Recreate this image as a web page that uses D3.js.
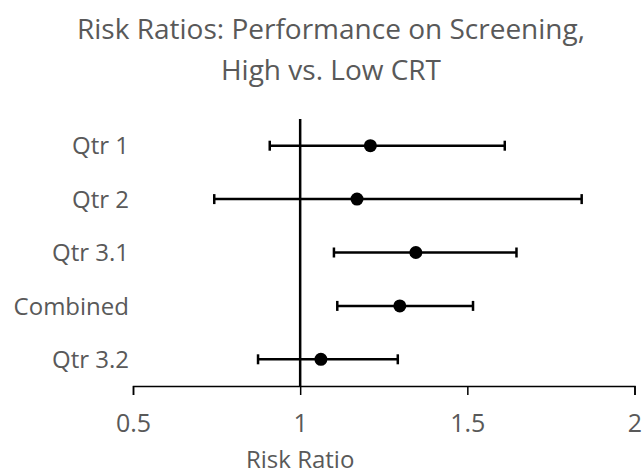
<!DOCTYPE html>
<html>
<head>
<meta charset="utf-8">
<script src="https://cdn.jsdelivr.net/npm/d3@7"></script>
<style>
  body { margin: 0; background: #fff; }
  text { font-family: "Open Sans", sans-serif; fill: #595959; }
</style>
</head>
<body>
<div id="chart"></div>
<script>
let groups = ['Qtr 1', 'Qtr 2', 'Qtr 3.1', 'Combined', 'Qtr 3.2'];
let ratio = [1.21, 1.17, 1.346, 1.298, 1.062];
let lower = [0.909, 0.743, 1.101, 1.111, 0.874];
let upper = [1.612, 1.842, 1.647, 1.517, 1.292];
let xTicks = [0.5, 1, 1.5, 2];
let titleLines = ['Risk Ratios: Performance on Screening,', 'High vs. Low CRT'];

let rows = groups.map(function(g, i) {
    return {name: g, rr: ratio[i], lo: lower[i], hi: upper[i]};
});

let svg = d3.select('#chart').append('svg')
    .attr('width', 642)
    .attr('height', 475);

let x = d3.scaleLinear()
    .domain([0.5, 2])
    .range([133, 634.5]);
let y = d3.scaleBand()
    .domain(groups)
    .range([119, 386]);

svg.selectAll('.title') // two line title
    .data(titleLines).enter().append('text')
    .attr('class', 'title')
    .attr('x', 331)
    .attr('y', function(d, i) { return 38.5 + i * 41.5; })
    .attr('text-anchor', 'middle')
    .style('font-size', '28px')
    .text(function(d) { return d; });

let xAxis = svg.append('g') // x axis at bottom
    .attr('transform', 'translate(0,386)')
    .call(d3.axisBottom(x).tickValues(xTicks).tickSize(9).tickFormat(function(d) { return d; }));
xAxis.select('.domain')
    .attr('stroke', '#000')
    .attr('stroke-width', 1.5);
xAxis.selectAll('.tick line')
    .attr('stroke', '#000')
    .attr('stroke-width', 1.5);
xAxis.selectAll('.tick text')
    .attr('y', 46)
    .attr('dy', 0)
    .style('font-size', '25px')
    .style('font-family', '"Open Sans", sans-serif')
    .attr('fill', '#595959');

let yAxis = svg.append('g') // category labels on the left
    .attr('transform', 'translate(133,0)')
    .call(d3.axisLeft(y).tickSize(0).tickPadding(4));
yAxis.select('.domain').remove();
yAxis.selectAll('.tick text')
    .attr('dy', '0.36em')
    .style('font-size', '24px')
    .style('font-family', '"Open Sans", sans-serif')
    .attr('fill', '#595959');

svg.append('text') // x axis title
    .attr('x', x(1))
    .attr('y', 468)
    .attr('text-anchor', 'middle')
    .style('font-size', '24px')
    .text('Risk Ratio');

svg.append('line') // reference line at RR = 1
    .attr('stroke', '#000')
    .attr('stroke-width', 2.5)
    .attr('x1', x(1))
    .attr('x2', x(1))
    .attr('y1', y.range()[0])
    .attr('y2', y.range()[1]);

let bars = svg.append('g').selectAll('g')
    .data(rows).enter().append('g');
bars.append('line') // confidence interval
    .attr('stroke', '#000')
    .attr('stroke-width', 2.5)
    .attr('x1', function(d) { return x(d.lo); })
    .attr('x2', function(d) { return x(d.hi); })
    .attr('y1', function(d) { return y(d.name) + y.bandwidth() / 2; })
    .attr('y2', function(d) { return y(d.name) + y.bandwidth() / 2; });
bars.selectAll('.cap') // end caps
    .data(function(d) { return [d.lo, d.hi].map(function(v) { return {v: v, name: d.name}; }); })
    .enter().append('line')
    .attr('class', 'cap')
    .attr('stroke', '#000')
    .attr('stroke-width', 2.5)
    .attr('x1', function(d) { return x(d.v); })
    .attr('x2', function(d) { return x(d.v); })
    .attr('y1', function(d) { return y(d.name) + y.bandwidth() / 2 - 5; })
    .attr('y2', function(d) { return y(d.name) + y.bandwidth() / 2 + 5; });
bars.append('circle') // point estimate
    .attr('fill', '#000')
    .attr('cx', function(d) { return x(d.rr); })
    .attr('cy', function(d) { return y(d.name) + y.bandwidth() / 2; })
    .attr('r', 6.5);
</script>
</body>
</html>
